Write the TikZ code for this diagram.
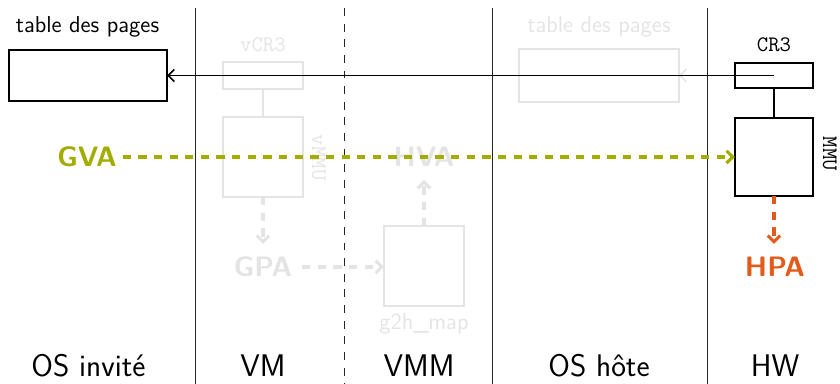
\documentclass[tikz,border=0pt]{standalone}
\usetikzlibrary{arrows.meta}
\definecolor{tumolive}{RGB}{162,173,0}
\definecolor{tumorange}{RGB}{227,91,26}
\definecolor{faded}{RGB}{228,228,228}
\begin{document}
\begin{tikzpicture}[x=0.02cm,y=-0.02cm,
  every node/.style={inner sep=0pt,outer sep=0pt,font=\sffamily},
  layer/.style={font=\sffamily\fontsize{17.8}{20}\selectfont,anchor=base},
  small/.style={font=\sffamily\fontsize{13.1}{15}\selectfont,anchor=base},
  reg/.style={font=\ttfamily\fontsize{12.6}{14}\selectfont,anchor=base},
  addr/.style={font=\sffamily\bfseries\fontsize{16}{18}\selectfont},
  boxline/.style={line width=1.1pt},
  sep/.style={line width=0.5pt,draw=black!85},
  tip/.style={-{Straight Barb[length=3.5pt,width=7pt]}},
  flow/.style={line width=1.8pt,dash pattern=on 4.7pt off 4.2pt,tip},
  ghostflow/.style={line width=1.8pt,dash pattern=on 4.7pt off 4.2pt,tip,draw=faded},
  link/.style={line width=0.9pt}]
\useasboundingbox (0,0) rectangle (840,384);

% layer separators
\draw[sep] (195,8) -- (195,384);
\draw[sep,dash pattern=on 4.5pt off 4.4pt] (344,8) -- (344,384);
\draw[sep] (492,8) -- (492,384);
\draw[sep] (707,8) -- (707,384);

% layer names
\node[layer] (lguest) at (88.5,377) {OS invité};
\node[layer] (lvm) at (263,377) {VM};
\node[layer] (lvmm) at (419,377) {VMM};
\node[layer] (lhost) at (599,377) {OS hôte};
\node[layer] (lhw) at (775,377) {HW};

% faded virtualisation path
\begin{scope}[faded]
  \draw[boxline] (223,62) rectangle (303,89);
  \coordinate (vcr3s) at (263,89);
  \draw[boxline] (223,117) rectangle (303,197);
  \coordinate (vmmun) at (263,117);
  \coordinate (vmmus) at (263,197);
  \node[reg] (vcr3lbl) at (263,51.5) {vCR3};
  \node[reg,rotate=-90,anchor=base west] (vmmulbl) at (312,135) {vMMU};
  \draw[link] (vcr3s) -- (vmmun);

  \node[addr] (gpa) at (263,267) {GPA};
  \draw[boxline] (384,226) rectangle (464,306);
  \coordinate (g2hw) at (384,267);
  \coordinate (g2hn) at (424,226);
  \node[small] (g2hlbl) at (424,330) {g2h\_map};
  \node[addr] (hva) at (424,157) {HVA};

  \draw[boxline] (519,49) rectangle (679,102);
  \coordinate (hptE) at (679,75.5);
  \node[small] (hptlbl) at (599,33) {table des pages};
\end{scope}
\draw[ghostflow] (vmmus) -- (263,244);
\draw[ghostflow] (gpa.east) ++(10,0) -- (g2hw);
\draw[ghostflow] (g2hn) -- (424,180);

% guest page table
\node[draw,boxline,minimum width=160*0.02cm-1.1pt,minimum height=53*0.02cm-1.1pt] (gpt) at (88,75.5) {};
\node[small] (gptlbl) at (87.5,33) {table des pages};

% hardware registers and MMU
\node[draw,boxline,minimum width=80*0.02cm-1.1pt,minimum height=27*0.02cm-1.1pt] (cr3) at (774,75.5) {};
\node[reg] (cr3lbl) at (774,51.5) {CR3};
\node[draw,boxline,minimum width=80*0.02cm-1.1pt,minimum height=80*0.02cm-1.1pt] (mmu) at (774,157) {};
\node[reg,rotate=-90,anchor=base west] (mmulbl) at (823,137) {MMU};
\draw[link] (cr3.south) -- (mmu.north);

% faded pointer to the host table, then the active one to the guest table
\draw[link,faded,tip] (cr3.center) -- (hptE);
\draw[link,tip] (cr3.center) -- (gpt.east);

% address translation
\node[addr,text=tumolive] (gva) at (87,157) {GVA};
\draw[flow,draw=tumolive] (gva.east) ++(6,0) -- (mmu.west);
\node[addr,text=tumorange] (hpa) at (775,267) {HPA};
\draw[flow,draw=tumorange] (mmu.south) -- (774,244);
\end{tikzpicture}
\end{document}
